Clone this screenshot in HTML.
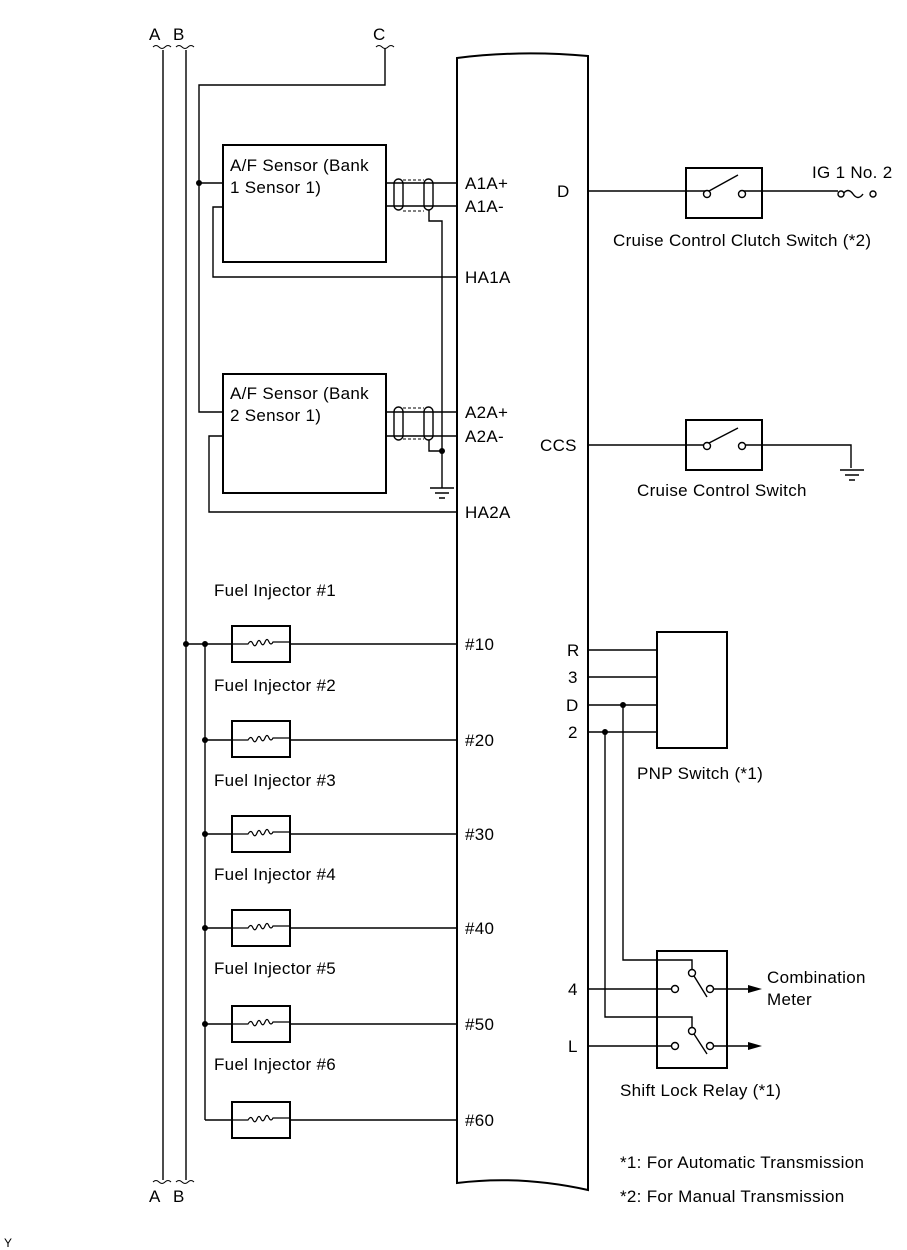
<!DOCTYPE html>
<html><head><meta charset="utf-8"><style>
html,body{margin:0;padding:0;background:#fff;}
svg{display:block;font-family:"Liberation Sans",Arial,sans-serif;}
text{font-size:17px;letter-spacing:0.3px;fill:#000;}
</style></head><body>
<svg width="907" height="1250" viewBox="0 0 907 1250">
<g fill="none" stroke="#000" stroke-width="1.4">
<path d="M163 50V1180M186 50V1180"/>
<path d="M153 47q3-3 6 0t6 0 6 0M176 47q3-3 6 0t6 0 6 0M153 1182q3-3 6 0t6 0 6 0M176 1182q3-3 6 0t6 0 6 0" stroke-width="1"/>
<path d="M376 47q3-3 6 0t6 0 6 0" stroke-width="1"/>
<path d="M385 48V85H199V412H223"/>
<path d="M199 183H223"/>
<path d="M457 1183V58Q520 50 588 56V1190Q520 1175 457 1183Z" stroke-width="2"/>
<rect x="223" y="145" width="163" height="117" stroke-width="2"/>
<rect x="223" y="374" width="163" height="119" stroke-width="2"/>
<path d="M386 183H457M386 206H457M223 207H213V277H457"/>
<path d="M386 412H457M386 436H457M223 436H209V512H457"/>
<rect x="394" y="179" width="9" height="31" rx="4.5"/>
<rect x="424" y="179" width="9" height="31" rx="4.5"/>
<rect x="394" y="407" width="9" height="33" rx="4.5"/>
<rect x="424" y="407" width="9" height="33" rx="4.5"/>
<path d="M403 180H424M403 211H424M403 408H424M403 439H424" stroke-dasharray="3 2" stroke-width="1"/>
<path d="M429 210V221H442V488M429 440V451H442"/>
<path d="M430 488H454M435 493H449M439 498H445"/>
<path d="M186 644H457M205 644V1120"/>
<path d="M205 740H457M205 834H457M205 928H457M205 1024H457M205 1120H457"/>
</g>
<g fill="#fff" stroke="#000" stroke-width="2">
<rect x="232" y="626" width="58" height="36"/>
<rect x="232" y="721" width="58" height="36"/>
<rect x="232" y="816" width="58" height="36"/>
<rect x="232" y="910" width="58" height="36"/>
<rect x="232" y="1006" width="58" height="36"/>
<rect x="232" y="1102" width="58" height="36"/>
</g>
<g fill="none" stroke="#000" stroke-width="1.2">
<path id="coil" d="M232 644H248q3-5 5 0q2 4 4-1q2-5 4 0q2 4 4-1q2-5 4 0q2 4 4 0H290"/>
<use href="#coil" y="96"/><use href="#coil" y="190"/><use href="#coil" y="284"/><use href="#coil" y="380"/><use href="#coil" y="476"/>
</g>
<g fill="#000">
<circle cx="199" cy="183" r="3"/><circle cx="442" cy="451" r="3"/>
<circle cx="186" cy="644" r="3"/><circle cx="205" cy="644" r="3"/>
<circle cx="205" cy="740" r="3"/><circle cx="205" cy="834" r="3"/><circle cx="205" cy="928" r="3"/><circle cx="205" cy="1024" r="3"/>
<circle cx="623" cy="705" r="3"/><circle cx="605" cy="732" r="3"/>
</g>
<g fill="none" stroke="#000" stroke-width="1.4">
<path d="M588 191H705M743 191H838"/>
<rect x="686" y="168" width="76" height="50" stroke-width="2"/>
<circle cx="707" cy="194" r="3.5" fill="#fff"/><circle cx="742" cy="194" r="3.5" fill="#fff"/>
<path d="M709 191L738 175"/>
<path d="M843 194q5-7 10 0t10 0" />
<circle cx="841" cy="194" r="3" fill="#fff"/><circle cx="873" cy="194" r="3" fill="#fff"/>
<path d="M588 445H705M743 445H851V468"/>
<rect x="686" y="420" width="76" height="50" stroke-width="2"/>
<circle cx="707" cy="446" r="3.5" fill="#fff"/><circle cx="742" cy="446" r="3.5" fill="#fff"/>
<path d="M709 443L738 428"/>
<path d="M840 470H864M845 475H859M849 480H855"/>
<rect x="657" y="632" width="70" height="116" stroke-width="2"/>
<path d="M588 650H657M588 677H657M588 705H657M588 732H657"/>
<path d="M623 705V960H692V970M605 732V1017H692V1028"/>
<rect x="657" y="951" width="70" height="117" stroke-width="2"/>
<path d="M588 989H671M714 989H753M588 1046H671M714 1046H753"/>
<circle cx="675" cy="989" r="3.5" fill="#fff"/><circle cx="710" cy="989" r="3.5" fill="#fff"/><circle cx="692" cy="973" r="3.5" fill="#fff"/>
<circle cx="675" cy="1046" r="3.5" fill="#fff"/><circle cx="710" cy="1046" r="3.5" fill="#fff"/><circle cx="692" cy="1031" r="3.5" fill="#fff"/>
<path d="M694 976L707 997M694 1034L707 1054"/>
</g>
<path d="M748 985L762 989L748 993Z M748 1042L762 1046L748 1050Z" fill="#000"/>
<text x="149" y="40">A</text><text x="173" y="40">B</text><text x="373" y="40">C</text>
<text x="149" y="1202">A</text><text x="173" y="1202">B</text>
<text x="230" y="171">A/F Sensor (Bank</text><text x="230" y="193">1 Sensor 1)</text>
<text x="230" y="399">A/F Sensor (Bank</text><text x="230" y="421">2 Sensor 1)</text>
<text x="465" y="189">A1A+</text><text x="465" y="212">A1A-</text><text x="465" y="283">HA1A</text>
<text x="465" y="418">A2A+</text><text x="465" y="442">A2A-</text><text x="465" y="518">HA2A</text>
<text x="214" y="596">Fuel Injector #1</text><text x="214" y="691">Fuel Injector #2</text>
<text x="214" y="786">Fuel Injector #3</text><text x="214" y="880">Fuel Injector #4</text>
<text x="214" y="974">Fuel Injector #5</text><text x="214" y="1070">Fuel Injector #6</text>
<text x="465" y="650">#10</text><text x="465" y="746">#20</text><text x="465" y="840">#30</text>
<text x="465" y="934">#40</text><text x="465" y="1030">#50</text><text x="465" y="1126">#60</text>
<text x="557" y="197">D</text><text x="540" y="451">CCS</text>
<text x="812" y="178">IG 1 No. 2</text>
<text x="613" y="246">Cruise Control Clutch Switch (*2)</text>
<text x="637" y="496">Cruise Control Switch</text>
<text x="567" y="656">R</text><text x="568" y="683">3</text><text x="566" y="711">D</text><text x="568" y="738">2</text>
<text x="637" y="779">PNP Switch (*1)</text>
<text x="568" y="995">4</text><text x="568" y="1052">L</text>
<text x="767" y="983">Combination</text><text x="767" y="1005">Meter</text>
<text x="620" y="1096">Shift Lock Relay (*1)</text>
<text x="620" y="1168">*1: For Automatic Transmission</text>
<text x="620" y="1202">*2: For Manual Transmission</text>
<text x="4" y="1247" style="font-size:12px">Y</text>
</svg>
</body></html>
